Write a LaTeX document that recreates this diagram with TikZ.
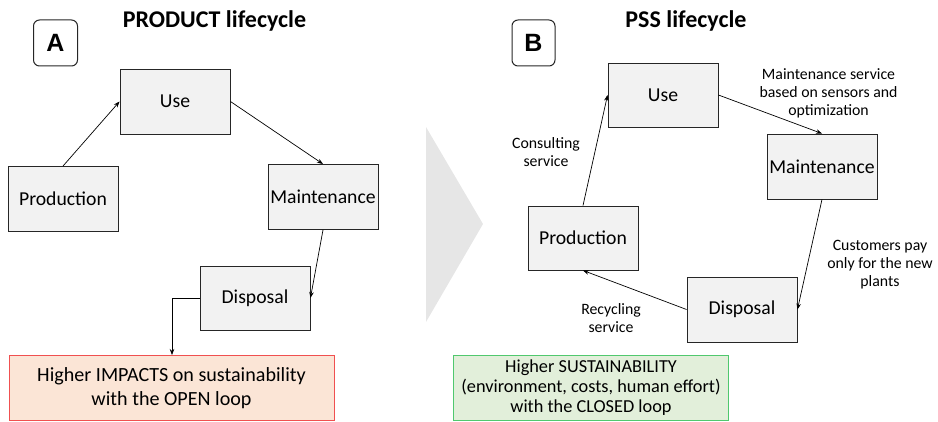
\documentclass[tikz,border=0pt]{standalone}
\usepackage{fontspec}
\setmainfont{Carlito}
\newfontfamily\letterfont{Liberation Sans}
\usetikzlibrary{arrows.meta}
\definecolor{boxfill}{HTML}{F2F2F2}
\definecolor{boxline}{HTML}{262626}
\definecolor{openfill}{HTML}{FBE5D6}
\definecolor{openline}{HTML}{F05050}
\definecolor{closedfill}{HTML}{E2EFDA}
\definecolor{closedline}{HTML}{50C86E}
\definecolor{bigarrow}{HTML}{E6E6E6}
\tikzset{
  stage/.style={draw=boxline, fill=boxfill, line width=0.9pt, minimum width=110pt,
    minimum height=65pt, inner sep=0pt, font=\fontsize{19.7}{23}\selectfont},
  letterbox/.style={draw=boxline, line width=1pt, rounded corners=6pt, minimum width=44pt,
    minimum height=46pt, inner sep=0pt, font=\letterfont\bfseries\fontsize{25}{28}\selectfont},
  heading/.style={font=\bfseries\fontsize{24}{26}\selectfont, inner sep=0pt},
  note/.style={align=center, inner sep=0pt, font=\fontsize{15.8}{18}\selectfont},
  outcome/.style={line width=0.9pt, minimum height=65pt, inner sep=0pt, align=center},
  flow/.style={line width=0.7pt, draw=black, -{Stealth[length=6pt,width=4.5pt]}}
}
\begin{document}
\begin{tikzpicture}[x=1pt, y=-1pt]
\useasboundingbox (0,0) rectangle (938,422);

% separating chevron
\fill[bigarrow] (426,127) -- (483,224) -- (426,322) -- cycle;

% ---------- A: product lifecycle ----------
\node[heading] (titleA) at (214.5,21) {PRODUCT lifecycle};
\node[letterbox] (tagA) at (55.5,43) {A};
\node[stage] (useA)   at (175,101.5) {Use};
\node[stage] (prodA)  at (63,199)    {Production};
\node[stage] (maintA) at (323,197)   {Maintenance};
\node[stage, minimum height=64pt] (dispA) at (255,298) {Disposal};
\node[outcome, draw=openline, fill=openfill, minimum width=325pt,
  font=\fontsize{20.1}{24.5}\selectfont] (openA) at (171.5,388)
  {Higher IMPACTS on sustainability\\with the OPEN loop};
\coordinate (drop) at (172,355);

\draw[flow] (prodA.north) -- (useA.west);
\draw[flow] (useA.east) -- (maintA.north);
\draw[flow] (maintA.south) -- (dispA.east);
\draw[flow] (dispA.west) -| (drop);

% ---------- B: PSS lifecycle ----------
\node[heading] (titleB) at (686,21) {PSS lifecycle};
\node[letterbox, minimum width=43pt] (tagB) at (533.5,43) {B};
\node[stage, minimum height=64pt] (useB) at (663,95) {Use};
\node[stage] (maintB) at (822,166.5) {Maintenance};
\node[stage, minimum height=64pt] (prodB) at (583,238) {Production};
\node[stage] (dispB)  at (742,309.5) {Disposal};
\node[outcome, draw=closedline, fill=closedfill, minimum width=275pt,
  font=\fontsize{18.3}{20}\selectfont] (closedB) at (591,387.5)
  {Higher SUSTAINABILITY\\(environment, costs, human effort)\\with the CLOSED loop};

\draw[flow] (prodB.north) -- (useB.west);
\draw[flow] (useB.east) -- (maintB.north);
\draw[flow] (maintB.south) -- (dispB.east);
\draw[flow] (dispB.west) -- (prodB.south);

\node[note] (consult) at (546,152)   {Consulting\\service};
\node[note] (mserv)   at (828.5,93)  {Maintenance service\\based on sensors and\\optimization};
\node[note] (pay)     at (880,265)   {Customers pay\\only for the new\\plants};
\node[note] (recycle) at (611,318.5) {Recycling\\service};
\end{tikzpicture}
\end{document}
